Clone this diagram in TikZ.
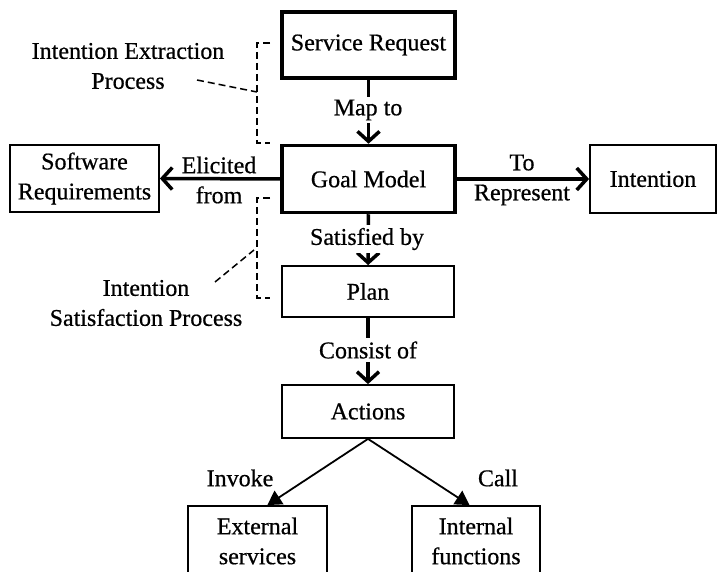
\documentclass[tikz,border=0pt]{standalone}
\usepackage{fontspec}
\setmainfont{Liberation Serif}[FakeBold=0.6]
\usetikzlibrary{arrows.meta,calc}

\tikzset{
  txt/.style={font=\fontsize{24}{30}\selectfont, align=center, inner sep=0pt},
  lbl/.style={txt, fill=white, inner xsep=1pt, inner ysep=3pt},
  boxthick/.style={txt, draw, line width=3.5pt, minimum width=#1},
  boxthin/.style={txt, draw, line width=1.8pt, minimum width=#1},
  flow/.style={line width=3.5pt, -{Straight Barb[length=10pt,width=22pt]}},
  branch/.style={line width=1.8pt, -{Triangle[length=14pt,width=16pt]}},
  bracket/.style={line width=1.5pt, dash pattern=on 7pt off 4pt},
}

\begin{document}
\begin{tikzpicture}[x=1pt,y=-1pt]
\useasboundingbox (0,0) rectangle (720,572);

% main chain of boxes
\node[boxthick=173pt, minimum height=66pt] (sr) at (368.5,45) {Service Request};
\node[boxthick=173pt, minimum height=67pt] (gm) at (368.5,179) {Goal Model};
\node[boxthin=149pt, minimum height=67pt] (sw) at (84.5,178.5) {Software\\Requirements};
\node[boxthin=126pt, minimum height=68pt] (in) at (653,179) {Intention};
\node[boxthin=172pt, minimum height=51pt] (pl) at (368,291.5) {Plan};
\node[boxthin=172pt, minimum height=53pt] (ac) at (368,411.5) {Actions};
\node[boxthin=139pt, minimum height=70pt] (ex) at (257.5,541) {External\\services};
\node[boxthin=128pt, minimum height=70pt] (it) at (476,541) {Internal\\functions};

% connectors
\draw[flow] (sr) -- (gm);
\draw[flow] (gm.west) -- (sw.east);
\draw[flow] (gm.east) -- (in.west);
\draw[flow] (gm) -- (pl);
\draw[flow] (pl) -- (ac);
\coordinate (exin) at ($(ex.north west)!0.57!(ex.north east)$);
\coordinate (itin) at ($(it.north west)!0.45!(it.north east)$);
\draw[branch] (ac.south) -- (exin);
\draw[branch] (ac.south) -- (itin);

% connector labels
\node[lbl] (lmap) at (368,110) {Map to};
\node[txt] (lelic) at (219,180) {Elicited\\from};
\node[txt] (lrep) at (522,180) {To\\Represent};
\node[lbl] (lsat) at (367,239) {Satisfied by};
\node[lbl] (lcon) at (368,350) {Consist of};
\node[txt] (linv) at (240,478) {Invoke};
\node[txt] (lcall) at (498,478) {Call};

% process brackets
\node[txt] (pext) at (128,66) {Intention Extraction\\Process};
\node[txt] (psat) at (146,303) {Intention\\Satisfaction Process};
\coordinate (e1) at (270,43);
\coordinate (e2) at (257,43);
\coordinate (e3) at (257,143);
\coordinate (e4) at (270,143);
\coordinate (ed) at (257,92);
\coordinate (es) at (197,80);
\draw[bracket] (e1) -- (e2) -- (e3) -- (e4);
\draw[bracket] (es) -- (ed);
\coordinate (s1) at (270,198);
\coordinate (s2) at (257,198);
\coordinate (s3) at (257,298);
\coordinate (s4) at (270,298);
\coordinate (sd) at (254,250);
\coordinate (ss) at (215,282);
\draw[bracket] (s1) -- (s2) -- (s3) -- (s4);
\draw[bracket] (ss) -- (sd);
\end{tikzpicture}
\end{document}
